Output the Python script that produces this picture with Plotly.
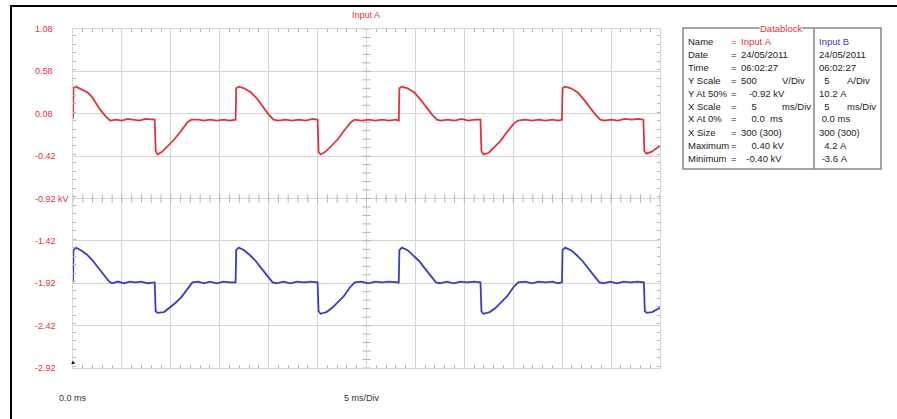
import numpy as np
import plotly.graph_objects as go

# ---- data ----
# Input A, kV (vertices of the trace)
red_t = [0.00, 0.05, 0.30, 0.80, 1.50, 2.00, 2.70, 3.40, 3.80, 4.40, 5.00, 5.60, 6.20, 6.80, 7.40, 8.00,
         8.35, 8.45, 8.65, 9.10, 9.70, 10.30, 11.00, 11.70, 12.10, 12.80, 13.40, 14.00, 14.70, 15.40, 16.00, 16.62,
         16.68, 16.95, 17.50, 18.20, 18.80, 19.40, 20.00, 20.50, 21.00, 21.70, 22.40, 23.10, 23.80, 24.50, 25.00,
         25.10, 25.30, 25.80, 26.40, 27.00, 27.70, 28.40, 28.80, 29.50, 30.20, 30.90, 31.60, 32.30, 33.00, 33.30,
         33.36, 33.62, 34.20, 34.90, 35.50, 36.10, 36.70, 37.20, 37.60, 38.30, 39.00, 39.70, 40.40, 41.10, 41.65,
         41.75, 41.95, 42.50, 43.10, 43.70, 44.40, 45.10, 45.50, 46.20, 46.90, 47.60, 48.30, 49.00, 49.60, 49.98,
         50.04, 50.30, 50.90, 51.60, 52.20, 52.80, 53.40, 53.90, 54.30, 55.00, 55.70, 56.40, 57.10, 57.80, 58.30,
         58.40, 58.60, 59.10, 59.60, 60.00]
red_kv = [0.02, 0.38, 0.40, 0.37, 0.33, 0.27, 0.14, 0.04, 0.00, 0.01, 0.00, 0.02, 0.01, 0.00, 0.02, 0.01,
          0.01, -0.36, -0.40, -0.37, -0.30, -0.23, -0.13, -0.02, 0.01, 0.01, 0.00, 0.01, 0.00, 0.01, 0.00, 0.01,
          0.38, 0.40, 0.38, 0.33, 0.26, 0.16, 0.07, 0.01, 0.00, 0.01, 0.00, 0.01, 0.00, 0.02, 0.01,
          -0.37, -0.40, -0.37, -0.30, -0.23, -0.12, -0.02, 0.01, 0.00, 0.01, 0.00, 0.01, 0.00, 0.01, 0.00,
          0.38, 0.40, 0.38, 0.33, 0.25, 0.16, 0.07, 0.01, 0.00, 0.01, 0.00, 0.02, 0.00, 0.01, 0.01,
          -0.36, -0.40, -0.38, -0.31, -0.24, -0.13, -0.03, 0.00, 0.01, 0.00, 0.01, 0.00, 0.01, 0.00, 0.01,
          0.38, 0.40, 0.38, 0.33, 0.25, 0.16, 0.07, 0.01, 0.00, 0.01, 0.00, 0.02, 0.01, 0.02, 0.01,
          -0.36, -0.39, -0.37, -0.33, -0.30]

# Input B, A
blue_t = [0.00, 0.05, 0.30, 0.80, 1.40, 2.00, 2.60, 3.20, 3.70, 4.00, 4.60, 5.20, 5.80, 6.40, 7.00, 7.60,
          8.35, 8.45, 8.65, 9.30, 9.90, 10.50, 11.10, 11.70, 12.20, 12.80, 13.40, 14.00, 14.70, 15.40, 16.00, 16.62,
          16.68, 16.95, 17.50, 18.10, 18.70, 19.30, 19.90, 20.40, 20.80, 21.50, 22.20, 22.90, 23.60, 24.30, 25.00,
          25.10, 25.30, 25.90, 26.50, 27.10, 27.70, 28.30, 28.80, 29.50, 30.20, 30.90, 31.60, 32.30, 33.00, 33.30,
          33.36, 33.62, 34.20, 34.80, 35.40, 36.00, 36.60, 37.10, 37.50, 38.20, 38.90, 39.60, 40.30, 41.00, 41.65,
          41.75, 41.95, 42.60, 43.20, 43.80, 44.40, 45.00, 45.50, 46.20, 46.90, 47.60, 48.30, 49.00, 49.60, 49.98,
          50.04, 50.30, 50.90, 51.50, 52.10, 52.70, 53.30, 53.80, 54.20, 54.90, 55.60, 56.30, 57.00, 57.70, 58.35,
          58.45, 58.65, 59.20, 60.00]
blue_a = [0.1, 3.9, 4.2, 3.9, 3.4, 2.7, 1.8, 0.9, 0.2, 0.0, 0.2, 0.0, 0.2, 0.1, 0.2, 0.0,
          0.1, -3.3, -3.5, -3.4, -2.9, -2.3, -1.6, -0.6, 0.1, 0.2, 0.0, 0.2, 0.0, 0.2, 0.1, 0.1,
          3.9, 4.2, 3.9, 3.3, 2.6, 1.7, 0.8, 0.1, 0.0, 0.2, 0.0, 0.2, 0.1, 0.2, 0.1,
          -3.3, -3.6, -3.4, -2.9, -2.2, -1.5, -0.5, 0.1, 0.2, 0.0, 0.2, 0.1, 0.2, 0.1, 0.1,
          3.9, 4.2, 3.9, 3.3, 2.6, 1.7, 0.8, 0.1, 0.0, 0.2, 0.0, 0.2, 0.1, 0.2, 0.1,
          -3.3, -3.6, -3.4, -2.9, -2.2, -1.5, -0.5, 0.1, 0.2, 0.0, 0.2, 0.1, 0.2, 0.0, 0.1,
          3.9, 4.2, 3.9, 3.3, 2.6, 1.7, 0.8, 0.1, 0.0, 0.2, 0.0, 0.2, 0.1, 0.2, 0.1,
          -3.3, -3.5, -3.4, -2.9]

y_tick_vals = [1.08, 0.58, 0.08, -0.42, -0.92, -1.42, -1.92, -2.42, -2.92]
y_tick_text = ["1.08", "0.58", "0.08", "-0.42", "-0.92 kV", "-1.42", "-1.92", "-2.42", "-2.92"]

db_labels = ["Name", "Date", "Time", "Y Scale", "Y At 50%", "X Scale", "X At 0%", "X Size", "Maximum", "Minimum"]
db_a_vals = ["Input A", "24/05/2011", "06:02:27", "500", "   -0.92 kV", "    5", "    0.0  ms", "300 (300)",
             "    0.40 kV", "  -0.40 kV"]
db_a_units = ["", "", "", "V/Div", "", "ms/Div", "", "", "", ""]
db_b_vals = ["Input B", "24/05/2011", "06:02:27", "  5", "10.2 A", "  5", " 0.0 ms", "300 (300)", "  4.2 A", " -3.6 A"]
db_b_units = ["", "", "", "A/Div", "", "ms/Div", "", "", "", ""]

RED = "#e2323e"
BLUE = "#3b3bc8"
GRID = "#d6d6d6"
TICK = "#b4b4b4"
FONT = "Arial, Liberation Sans, sans-serif"

# pixel -> paper helpers (plot area spans x 73..660, y 29..368)
W, H = 897, 419
L, R, T, B = 73, 237, 29, 51
def px(x):
    return (x - L) / (W - L - R)
def py(y):
    return (H - B - y) / (H - T - B)

def label(x, y, s, color="#222", size=9.5, xa="left", xref="paper", yref="paper"):
    return dict(x=x, y=y, xref=xref, yref=yref, text=s, showarrow=False, xanchor=xa, yanchor="middle",
                font=dict(size=size, color=color, family=FONT))

fig = go.Figure()

# graticule tick marks on centre lines
xt = np.arange(0, 60.01, 1.0)
yt = np.arange(-2.92, 1.0801, 0.1)
fig.add_trace(go.Scatter(x=xt, y=[-0.92] * len(xt), mode="markers", hoverinfo="skip",
                         marker=dict(symbol="line-ns", size=6, line=dict(color=TICK, width=1))))
fig.add_trace(go.Scatter(x=[30] * len(yt), y=yt, mode="markers", hoverinfo="skip",
                         marker=dict(symbol="line-ew", size=6, line=dict(color=TICK, width=1))))

fig.add_trace(go.Scatter(x=red_t, y=red_kv, mode="lines", name="Input A",
                         line=dict(color=RED, width=1.8)))
fig.add_trace(go.Scatter(x=blue_t, y=blue_a, mode="lines", name="Input B", yaxis="y2",
                         line=dict(color=BLUE, width=1.8)))

ann = []
for v, s in zip(y_tick_vals, y_tick_text):
    ann.append(label(px(33), v, s, color=RED, size=9, yref="y"))
ann.append(label(px(366), py(15), "Input A", color=RED, size=9, xa="center"))
ann.append(label(px(57), py(398), "0.0 ms", color="#333", size=9))
ann.append(label(px(362), py(398), "5 ms/Div", color="#333", size=9, xa="center"))
ann.append(dict(x=px(73), y=py(368), xref="paper", yref="paper", text="\u25b2", showarrow=False,
                xanchor="center", yanchor="bottom", font=dict(size=6, color="#000")))

# datablock
d = label(px(781), py(28), "Datablock", color=RED, xa="center")
d.update(bgcolor="white", borderpad=0)
ann.append(d)
nb = lambda s: s.replace(" ", "\u00a0")
for i in range(len(db_labels)):
    yy = py(41 + 13 * i)
    ca = RED if i == 0 else "#222"
    cb = BLUE if i == 0 else "#222"
    ann.append(label(px(686), yy, db_labels[i]))
    ann.append(label(px(729), yy, "=", color=ca))
    ann.append(label(px(739), yy, nb(db_a_vals[i]), color=ca))
    if db_a_units[i]:
        ann.append(label(px(780), yy, db_a_units[i]))
    ann.append(label(px(817), yy, nb(db_b_vals[i]), color=cb))
    if db_b_units[i]:
        ann.append(label(px(845), yy, db_b_units[i]))

shapes = [
    # outer frame
    dict(type="rect", xref="paper", yref="paper", x0=px(11), x1=px(905), y0=py(430), y1=py(6),
         line=dict(color="#000", width=2)),
    # datablock box and divider
    dict(type="rect", xref="paper", yref="paper", x0=px(683), x1=px(881), y0=py(169), y1=py(28),
         line=dict(color="#888", width=1.5), layer="below"),
    dict(type="line", xref="paper", yref="paper", x0=px(814), x1=px(814), y0=py(169), y1=py(28),
         line=dict(color="#888", width=1.5), layer="below"),
]

fig.update_layout(
    width=W, height=H,
    margin=dict(l=L, r=R, t=T, b=B),
    paper_bgcolor="white", plot_bgcolor="white",
    showlegend=False,
    annotations=ann, shapes=shapes,
    xaxis=dict(range=[0, 60], tick0=0, dtick=5, showgrid=True, gridcolor=GRID, gridwidth=1,
               zeroline=False, showticklabels=False, ticks="",
               showline=True, linecolor=GRID, mirror="allticks",
               minor=dict(ticks="inside", dtick=1, ticklen=3, tickcolor=TICK, showgrid=False)),
    yaxis=dict(range=[-2.92, 1.08], tick0=-2.92, dtick=0.5, showgrid=True, gridcolor=GRID, gridwidth=1,
               zeroline=False, showticklabels=False, ticks="",
               showline=True, linecolor=GRID, mirror="allticks",
               minor=dict(ticks="inside", dtick=0.1, ticklen=3, tickcolor=TICK, showgrid=False)),
    yaxis2=dict(range=[-10, 30], overlaying="y", visible=False),
)

fig.write_html("out.html", config={"displayModeBar": False},
               post_script="document.body.style.margin='0px';")
